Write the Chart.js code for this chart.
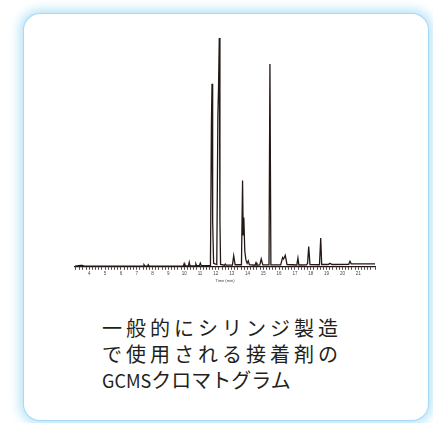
<!DOCTYPE html>
<html>
<head>
<meta charset="utf-8">
<script src="https://cdn.jsdelivr.net/npm/chart.js@4.4.0/dist/chart.umd.min.js"></script>
<style>
  html, body { margin: 0; padding: 0; background: #ffffff; }
  body { width: 433px; height: 423px; position: relative; overflow: hidden; }
  .card {
    position: absolute; left: 24px; top: 14px; width: 404px; height: 406px;
    background: #ffffff; border-radius: 16px;
    box-shadow: 0 0 0 1px #a4daf5, 0 0 12px 4px #b2e1f7;
  }
  .plot { position: absolute; left: 70px; top: 30px; width: 310px; height: 256px; }
  .caption {
    position: absolute; left: 102px; top: 315px;
    font-family: "Noto Sans CJK JP", sans-serif; font-size: 20px; line-height: 26px;
    color: #231f20;
  }
  .caption .wide { letter-spacing: 4px; }
  .caption .latin { font-size: 18px; }
</style>
</head>
<body>
<div class="card"></div>
<div class="plot"><canvas id="gcms"></canvas></div>
<div class="caption">
  <div class="wide">一般的にシリンジ製造</div>
  <div class="wide">で使用される接着剤の</div>
  <div><span class="latin">GCMS</span>クロマトグラム</div>
</div>
<script>
// retention time (min) and relative intensity
const times = [3.10, 3.45, 3.55, 3.70, 7.40, 7.46, 7.52, 7.69, 7.73, 7.78,
  9.95, 10.00, 10.05, 10.27, 10.32, 10.37, 10.70, 10.74, 10.79, 10.96, 11.02, 11.08,
  11.66, 11.72, 11.76, 11.80, 11.86,
  12.06, 12.13, 12.17, 12.22, 12.26, 12.30,
  12.55, 12.60, 12.65, 13.05, 13.13, 13.22,
  13.62, 13.69, 13.73, 13.77, 13.83, 13.90, 13.98, 14.05, 14.12,
  14.48, 14.54, 14.60, 14.78, 14.87, 14.97,
  15.36, 15.42, 15.48,
  16.10, 16.22, 16.28, 16.39, 16.50,
  17.12, 17.19, 17.25, 17.74, 17.80, 17.87, 17.95,
  18.55, 18.63, 18.69, 19.10, 19.21, 19.35,
  20.40, 20.48, 20.56, 22.06];
const intensity = [0.3, 0.6, 0.6, 0.3, 0.3, 0.9, 0.3, 0.3, 0.9, 0.3,
  0.4, 1.4, 0.4, 0.4, 2.0, 0.4, 0.5, 1.3, 0.5, 0.5, 1.6, 0.5,
  0.6, 62, 80, 20, 1.5,
  1.0, 66, 78, 100, 20, 1.0,
  0.7, 1.2, 0.7, 0.7, 4.8, 0.9,
  0.9, 37.7, 14, 21.5, 7, 3, 1.5, 2.6, 0.9,
  0.7, 1.8, 0.7, 0.8, 3.4, 0.8,
  0.8, 88.6, 0.8,
  0.8, 4.0, 3.4, 5.0, 1.0,
  0.8, 3.8, 0.8, 0.9, 1.5, 8.8, 1.0,
  0.9, 12.6, 1.0, 1.0, 1.5, 1.0,
  1.1, 2.4, 1.3, 1.3];
const timeMin = 3.1;
const timeMax = 22.06;
const xTitle = 'Time (min)';

const points = times.map((t, i) => ({ x: t, y: intensity[i] }));

new Chart(document.getElementById('gcms'), {
  type: 'line',
  data: {
    datasets: [{
      data: points,
      borderColor: '#231815',
      borderWidth: 1.3,
      pointRadius: 0,
      tension: 0
    }]
  },
  options: {
    responsive: true,
    maintainAspectRatio: false,
    animation: false,
    layout: { padding: { left: 5, right: 5, top: 8, bottom: 2 } },
    plugins: { legend: { display: false }, tooltip: { enabled: false } },
    scales: {
      x: {
        type: 'linear',
        min: timeMin,
        max: timeMax,
        border: { display: true, color: '#231815', width: 1.2 },
        grid: { drawOnChartArea: false, drawTicks: true, tickLength: 3, color: '#231815', lineWidth: 0.8 },
        ticks: {
          stepSize: 0.2,
          autoSkip: false,
          maxRotation: 0,
          padding: 1,
          color: '#444',
          font: { size: 4.5, family: 'Liberation Sans' },
          callback: (v) => Math.abs(v - Math.round(v)) < 1e-6 ? String(Math.round(v)) : ''
        },
        title: { display: true, text: xTitle, color: '#444', font: { size: 4, family: 'Liberation Sans' }, padding: 1 }
      },
      y: {
        display: false,
        min: 0,
        max: 100
      }
    }
  }
});
</script>
</body>
</html>
